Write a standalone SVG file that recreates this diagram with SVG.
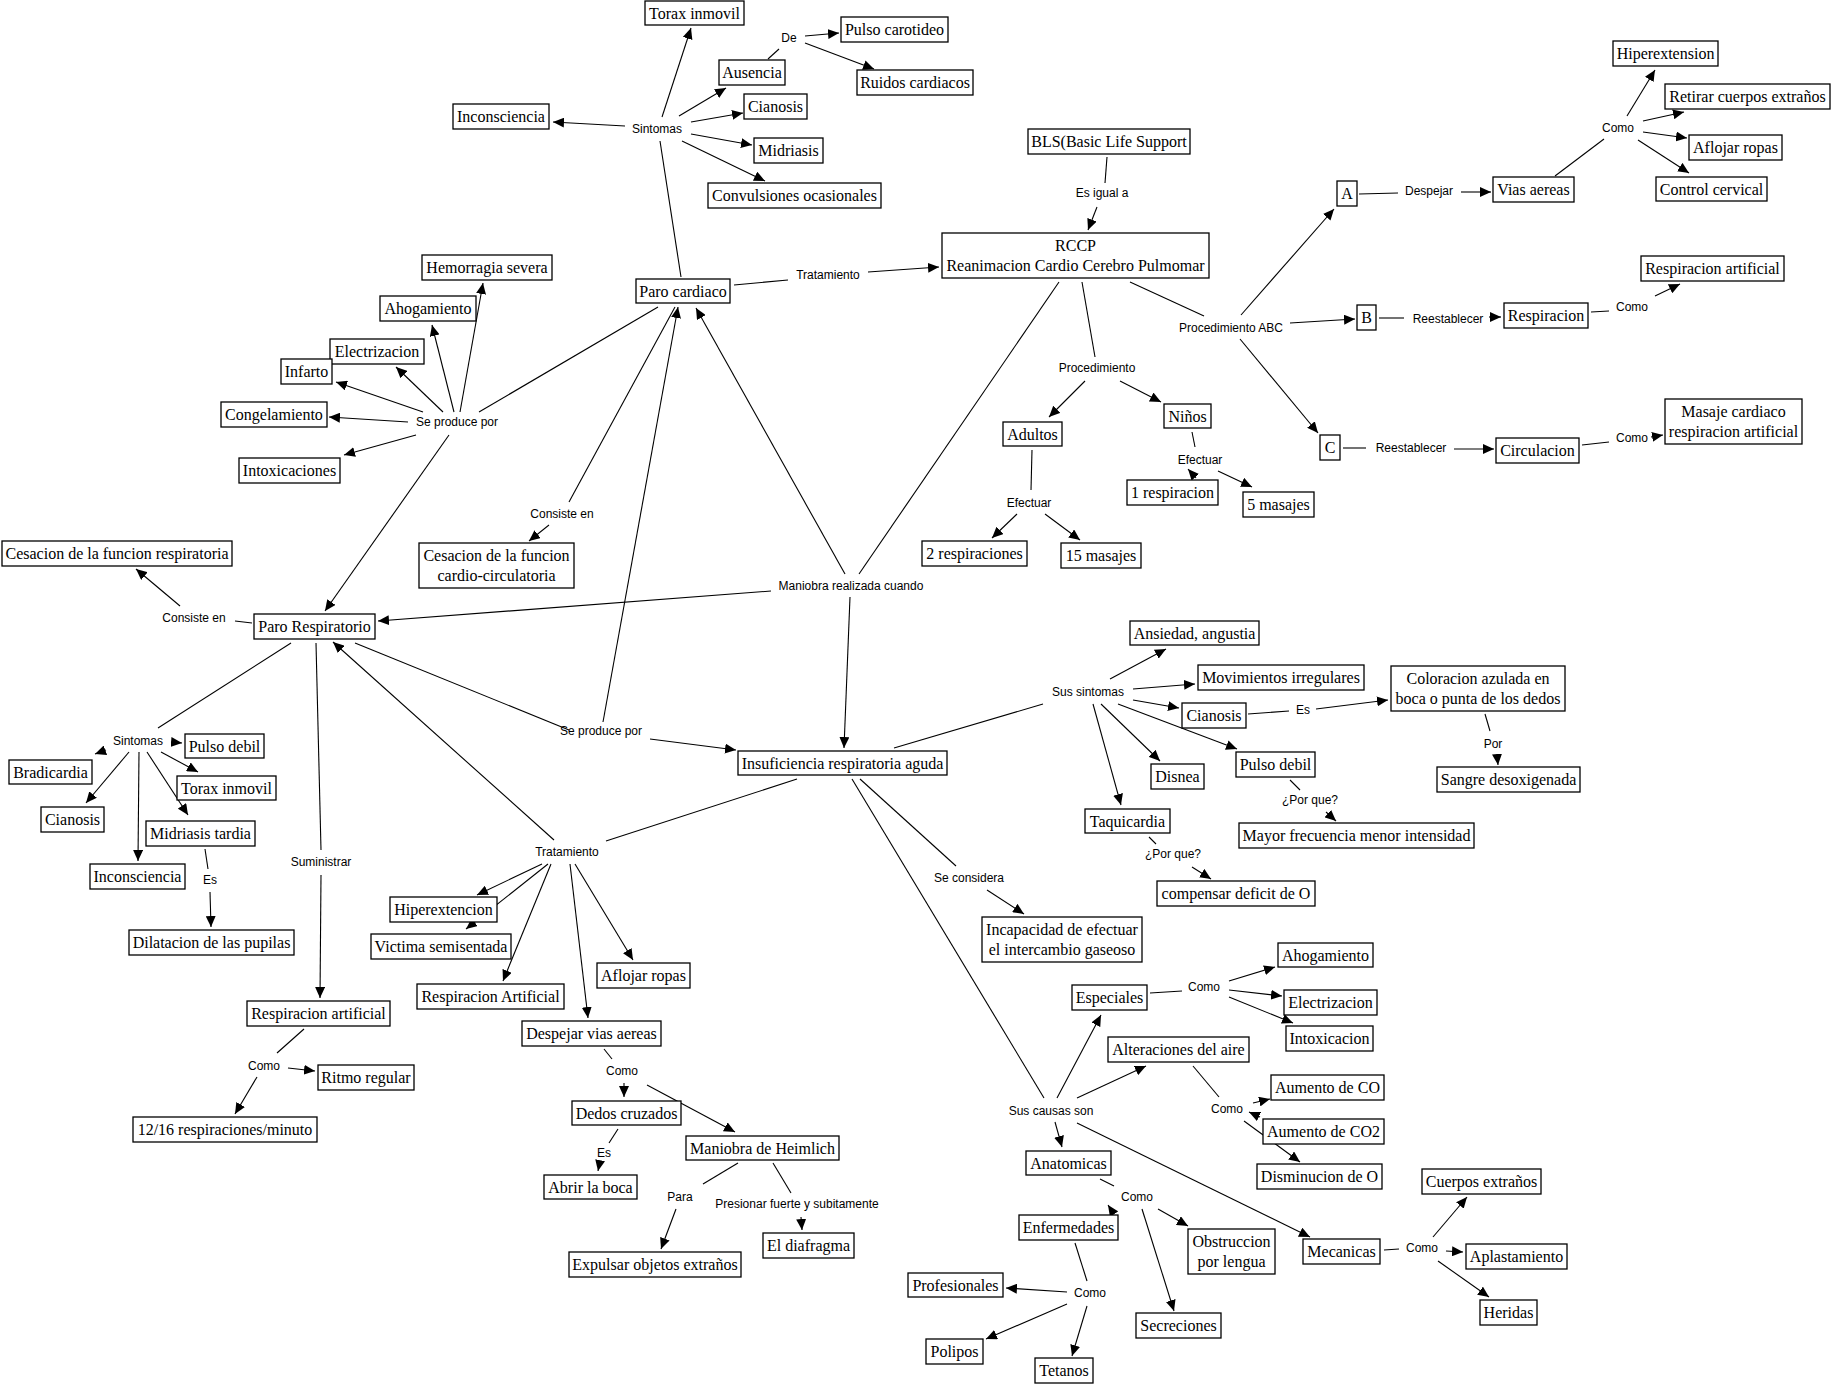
<svg xmlns="http://www.w3.org/2000/svg" width="1832" height="1386" viewBox="0 0 1832 1386">
<defs>
<marker id="ah" viewBox="0 0 11 10" markerWidth="11" markerHeight="10" refX="11" refY="5" orient="auto" markerUnits="userSpaceOnUse"><path d="M0,0 L11,5 L0,10 z" fill="#000"/></marker>
<style>
.n rect{fill:#fff;stroke:#000;stroke-width:1.3}
.n text{font-family:"Liberation Serif","Times New Roman",serif;font-size:16px;text-anchor:middle;fill:#000}
.lb{font-family:"Liberation Sans",Arial,sans-serif;font-size:12px;text-anchor:middle;fill:#000}
#edges line{stroke:#000;stroke-width:1.1}
#edges line.a{marker-end:url(#ah)}
</style>
</defs>
<rect width="1832" height="1386" fill="#fff"/>
<g id="edges">
<line x1="681" y1="277" x2="660" y2="141"/>
<line x1="768" y1="59" x2="779" y2="49"/>
<line x1="734" y1="285" x2="788" y2="280"/>
<line x1="1107" y1="157" x2="1105" y2="183"/>
<line x1="1059" y1="282" x2="859" y2="574"/>
<line x1="1082" y1="282" x2="1095" y2="357"/>
<line x1="1130" y1="282" x2="1204" y2="316"/>
<line x1="1192" y1="432" x2="1195" y2="447"/>
<line x1="1032" y1="450" x2="1031" y2="490"/>
<line x1="1359" y1="194" x2="1398" y2="193"/>
<line x1="1555" y1="176" x2="1604" y2="139"/>
<line x1="1379" y1="318" x2="1404" y2="318"/>
<line x1="1591" y1="312" x2="1609" y2="311"/>
<line x1="1343" y1="448" x2="1366" y2="448"/>
<line x1="1582" y1="445" x2="1609" y2="442"/>
<line x1="658" y1="307" x2="479" y2="412"/>
<line x1="675" y1="307" x2="569" y2="502"/>
<line x1="252" y1="623" x2="235" y2="621"/>
<line x1="291" y1="643" x2="158" y2="728"/>
<line x1="316" y1="643" x2="321" y2="850"/>
<line x1="355" y1="643" x2="569" y2="730"/>
<line x1="205" y1="849" x2="208" y2="869"/>
<line x1="304" y1="1029" x2="277" y2="1053"/>
<line x1="894" y1="748" x2="1043" y2="704"/>
<line x1="797" y1="779" x2="606" y2="841"/>
<line x1="860" y1="779" x2="956" y2="866"/>
<line x1="852" y1="779" x2="1044" y2="1098"/>
<line x1="1149" y1="837" x2="1156" y2="844"/>
<line x1="1248" y1="714" x2="1289" y2="711"/>
<line x1="1485" y1="714" x2="1490" y2="731"/>
<line x1="1290" y1="780" x2="1300" y2="790"/>
<line x1="618" y1="1129" x2="609" y2="1143"/>
<line x1="604" y1="1049" x2="612" y2="1059"/>
<line x1="738" y1="1163" x2="703" y2="1184"/>
<line x1="773" y1="1163" x2="791" y2="1193"/>
<line x1="1150" y1="993" x2="1182" y2="991"/>
<line x1="1193" y1="1066" x2="1219" y2="1097"/>
<line x1="1100" y1="1179" x2="1114" y2="1186"/>
<line x1="1075" y1="1243" x2="1087" y2="1281"/>
<line x1="1384" y1="1250" x2="1399" y2="1249"/>
<line class="a" x1="662" y1="117" x2="691" y2="28"/>
<line class="a" x1="679" y1="116" x2="726" y2="88"/>
<line class="a" x1="805" y1="36" x2="839" y2="33"/>
<line class="a" x1="805" y1="43" x2="874" y2="69"/>
<line class="a" x1="691" y1="122" x2="743" y2="113"/>
<line class="a" x1="691" y1="134" x2="752" y2="145"/>
<line class="a" x1="682" y1="141" x2="765" y2="181"/>
<line class="a" x1="625" y1="126" x2="553" y2="122"/>
<line class="a" x1="868" y1="272" x2="939" y2="267"/>
<line class="a" x1="1097" y1="207" x2="1088" y2="230"/>
<line class="a" x1="1085" y1="381" x2="1049" y2="417"/>
<line class="a" x1="1120" y1="381" x2="1161" y2="402"/>
<line class="a" x1="1241" y1="315" x2="1334" y2="209"/>
<line class="a" x1="1290" y1="323" x2="1355" y2="319"/>
<line class="a" x1="1240" y1="339" x2="1318" y2="433"/>
<line class="a" x1="1461" y1="192" x2="1491" y2="192"/>
<line class="a" x1="1627" y1="116" x2="1655" y2="70"/>
<line class="a" x1="1643" y1="121" x2="1684" y2="112"/>
<line class="a" x1="1643" y1="132" x2="1687" y2="138"/>
<line class="a" x1="1638" y1="140" x2="1689" y2="173"/>
<line class="a" x1="1489" y1="317" x2="1501" y2="317"/>
<line class="a" x1="1655" y1="296" x2="1680" y2="284"/>
<line class="a" x1="1454" y1="449" x2="1494" y2="449"/>
<line class="a" x1="1651" y1="437" x2="1663" y2="435"/>
<line class="a" x1="460" y1="412" x2="483" y2="283"/>
<line class="a" x1="454" y1="412" x2="432" y2="325"/>
<line class="a" x1="443" y1="412" x2="396" y2="367"/>
<line class="a" x1="423" y1="412" x2="336" y2="382"/>
<line class="a" x1="408" y1="422" x2="329" y2="417"/>
<line class="a" x1="416" y1="435" x2="344" y2="455"/>
<line class="a" x1="449" y1="435" x2="325" y2="611"/>
<line class="a" x1="549" y1="525" x2="529" y2="541"/>
<line class="a" x1="771" y1="591" x2="378" y2="621"/>
<line class="a" x1="180" y1="606" x2="136" y2="569"/>
<line class="a" x1="171" y1="742" x2="182" y2="743"/>
<line class="a" x1="106" y1="750" x2="95" y2="754"/>
<line class="a" x1="129" y1="752" x2="86" y2="803"/>
<line class="a" x1="139" y1="752" x2="138" y2="861"/>
<line class="a" x1="147" y1="752" x2="188" y2="815"/>
<line class="a" x1="161" y1="752" x2="198" y2="772"/>
<line class="a" x1="210" y1="892" x2="211" y2="927"/>
<line class="a" x1="321" y1="875" x2="320" y2="998"/>
<line class="a" x1="554" y1="840" x2="333" y2="642"/>
<line class="a" x1="603" y1="722" x2="678" y2="307"/>
<line class="a" x1="845" y1="574" x2="696" y2="308"/>
<line class="a" x1="850" y1="597" x2="844" y2="748"/>
<line class="a" x1="650" y1="739" x2="736" y2="750"/>
<line class="a" x1="1017" y1="514" x2="992" y2="538"/>
<line class="a" x1="1045" y1="514" x2="1080" y2="540"/>
<line class="a" x1="1196" y1="478" x2="1188" y2="469"/>
<line class="a" x1="1218" y1="471" x2="1252" y2="487"/>
<line class="a" x1="1110" y1="679" x2="1166" y2="649"/>
<line class="a" x1="1133" y1="689" x2="1195" y2="684"/>
<line class="a" x1="1133" y1="700" x2="1179" y2="708"/>
<line class="a" x1="1118" y1="704" x2="1237" y2="749"/>
<line class="a" x1="1101" y1="704" x2="1160" y2="761"/>
<line class="a" x1="1093" y1="704" x2="1121" y2="805"/>
<line class="a" x1="1316" y1="709" x2="1388" y2="700"/>
<line class="a" x1="1497" y1="754" x2="1498" y2="765"/>
<line class="a" x1="1326" y1="812" x2="1336" y2="821"/>
<line class="a" x1="1192" y1="867" x2="1211" y2="879"/>
<line class="a" x1="987" y1="890" x2="1024" y2="914"/>
<line class="a" x1="542" y1="864" x2="477" y2="895"/>
<line class="a" x1="548" y1="864" x2="466" y2="929"/>
<line class="a" x1="551" y1="864" x2="503" y2="981"/>
<line class="a" x1="570" y1="864" x2="588" y2="1018"/>
<line class="a" x1="575" y1="864" x2="633" y2="960"/>
<line class="a" x1="288" y1="1068" x2="315" y2="1071"/>
<line class="a" x1="257" y1="1077" x2="235" y2="1114"/>
<line class="a" x1="624" y1="1083" x2="624" y2="1097"/>
<line class="a" x1="647" y1="1085" x2="735" y2="1132"/>
<line class="a" x1="600" y1="1161" x2="598" y2="1171"/>
<line class="a" x1="676" y1="1209" x2="661" y2="1249"/>
<line class="a" x1="801" y1="1217" x2="802" y2="1230"/>
<line class="a" x1="1057" y1="1098" x2="1101" y2="1015"/>
<line class="a" x1="1077" y1="1098" x2="1146" y2="1066"/>
<line class="a" x1="1055" y1="1122" x2="1062" y2="1147"/>
<line class="a" x1="1077" y1="1123" x2="1310" y2="1237"/>
<line class="a" x1="1229" y1="981" x2="1275" y2="967"/>
<line class="a" x1="1229" y1="990" x2="1282" y2="996"/>
<line class="a" x1="1229" y1="997" x2="1293" y2="1023"/>
<line class="a" x1="1253" y1="1103" x2="1270" y2="1099"/>
<line class="a" x1="1260" y1="1117" x2="1249" y2="1112"/>
<line class="a" x1="1244" y1="1121" x2="1300" y2="1162"/>
<line class="a" x1="1114" y1="1214" x2="1108" y2="1205"/>
<line class="a" x1="1158" y1="1209" x2="1188" y2="1226"/>
<line class="a" x1="1142" y1="1209" x2="1174" y2="1311"/>
<line class="a" x1="1067" y1="1292" x2="1006" y2="1288"/>
<line class="a" x1="1067" y1="1304" x2="986" y2="1339"/>
<line class="a" x1="1087" y1="1306" x2="1072" y2="1356"/>
<line class="a" x1="1433" y1="1237" x2="1467" y2="1197"/>
<line class="a" x1="1446" y1="1251" x2="1463" y2="1252"/>
<line class="a" x1="1438" y1="1261" x2="1489" y2="1297"/>
</g>
<g id="labels">
<text class="lb" x="657" y="133">Sintomas</text>
<text class="lb" x="789" y="42">De</text>
<text class="lb" x="1102" y="197">Es igual a</text>
<text class="lb" x="828" y="279">Tratamiento</text>
<text class="lb" x="457" y="426">Se produce por</text>
<text class="lb" x="1097" y="372">Procedimiento</text>
<text class="lb" x="1231" y="332">Procedimiento ABC</text>
<text class="lb" x="1429" y="195">Despejar</text>
<text class="lb" x="1618" y="132">Como</text>
<text class="lb" x="1448" y="323">Reestablecer</text>
<text class="lb" x="1632" y="311">Como</text>
<text class="lb" x="1411" y="452">Reestablecer</text>
<text class="lb" x="1632" y="442">Como</text>
<text class="lb" x="1200" y="464">Efectuar</text>
<text class="lb" x="1029" y="507">Efectuar</text>
<text class="lb" x="562" y="518">Consiste en</text>
<text class="lb" x="194" y="622">Consiste en</text>
<text class="lb" x="851" y="590">Maniobra realizada cuando</text>
<text class="lb" x="1088" y="696">Sus sintomas</text>
<text class="lb" x="1303" y="714">Es</text>
<text class="lb" x="1493" y="748">Por</text>
<text class="lb" x="1310" y="804">¿Por que?</text>
<text class="lb" x="1173" y="858">¿Por que?</text>
<text class="lb" x="601" y="735">Se produce por</text>
<text class="lb" x="138" y="745">Sintomas</text>
<text class="lb" x="210" y="884">Es</text>
<text class="lb" x="321" y="866">Suministrar</text>
<text class="lb" x="567" y="856">Tratamiento</text>
<text class="lb" x="969" y="882">Se considera</text>
<text class="lb" x="264" y="1070">Como</text>
<text class="lb" x="622" y="1075">Como</text>
<text class="lb" x="604" y="1157">Es</text>
<text class="lb" x="680" y="1201">Para</text>
<text class="lb" x="797" y="1208">Presionar fuerte y subitamente</text>
<text class="lb" x="1204" y="991">Como</text>
<text class="lb" x="1051" y="1115">Sus causas son</text>
<text class="lb" x="1227" y="1113">Como</text>
<text class="lb" x="1137" y="1201">Como</text>
<text class="lb" x="1090" y="1297">Como</text>
<text class="lb" x="1422" y="1252">Como</text>
</g>
<g id="nodes">
<g id="n1" class="n"><rect x="645" y="1" width="99" height="24"/><text x="694.5" y="19">Torax inmovil</text></g>
<g id="n2" class="n"><rect x="841" y="17" width="107" height="25"/><text x="894.5" y="35">Pulso carotideo</text></g>
<g id="n3" class="n"><rect x="719" y="60" width="66" height="25"/><text x="752" y="78">Ausencia</text></g>
<g id="n4" class="n"><rect x="857" y="70" width="116" height="25"/><text x="915" y="88">Ruidos cardiacos</text></g>
<g id="n5" class="n"><rect x="744" y="94" width="63" height="25"/><text x="775.5" y="112">Cianosis</text></g>
<g id="n6" class="n"><rect x="453" y="104" width="96" height="25"/><text x="501" y="122">Inconsciencia</text></g>
<g id="n7" class="n"><rect x="754" y="138" width="69" height="25"/><text x="788.5" y="156">Midriasis</text></g>
<g id="n8" class="n"><rect x="708" y="183" width="173" height="25"/><text x="794.5" y="201">Convulsiones ocasionales</text></g>
<g id="n9" class="n"><rect x="1028" y="129" width="162" height="25"/><text x="1109" y="147">BLS(Basic Life Support</text></g>
<g id="n10" class="n"><rect x="942" y="233" width="267" height="45"/><text x="1075.5" y="251">RCCP</text><text x="1075.5" y="271">Reanimacion Cardio Cerebro Pulmomar</text></g>
<g id="n11" class="n"><rect x="636" y="279" width="94" height="24"/><text x="683" y="297">Paro cardiaco</text></g>
<g id="n12" class="n"><rect x="422" y="255" width="130" height="25"/><text x="487" y="273">Hemorragia severa</text></g>
<g id="n13" class="n"><rect x="380" y="296" width="96" height="25"/><text x="428" y="314">Ahogamiento</text></g>
<g id="n14" class="n"><rect x="330" y="339" width="94" height="25"/><text x="377" y="357">Electrizacion</text></g>
<g id="n15" class="n"><rect x="281" y="359" width="51" height="25"/><text x="306.5" y="377">Infarto</text></g>
<g id="n16" class="n"><rect x="221" y="402" width="106" height="25"/><text x="274" y="420">Congelamiento</text></g>
<g id="n17" class="n"><rect x="239" y="458" width="101" height="25"/><text x="289.5" y="476">Intoxicaciones</text></g>
<g id="n18" class="n"><rect x="1613" y="41" width="105" height="25"/><text x="1665.5" y="59">Hiperextension</text></g>
<g id="n19" class="n"><rect x="1665" y="84" width="165" height="25"/><text x="1747.5" y="102">Retirar cuerpos extraños</text></g>
<g id="n20" class="n"><rect x="1689" y="135" width="93" height="25"/><text x="1735.5" y="153">Aflojar ropas</text></g>
<g id="n21" class="n"><rect x="1656" y="177" width="111" height="24"/><text x="1711.5" y="195">Control cervical</text></g>
<g id="n22" class="n"><rect x="1337" y="181" width="20" height="25"/><text x="1347" y="199">A</text></g>
<g id="n23" class="n"><rect x="1493" y="177" width="81" height="25"/><text x="1533.5" y="195">Vias aereas</text></g>
<g id="n24" class="n"><rect x="1641" y="256" width="143" height="25"/><text x="1712.5" y="274">Respiracion artificial</text></g>
<g id="n25" class="n"><rect x="1357" y="305" width="19" height="25"/><text x="1366.5" y="323">B</text></g>
<g id="n26" class="n"><rect x="1504" y="303" width="84" height="25"/><text x="1546" y="321">Respiracion</text></g>
<g id="n27" class="n"><rect x="1320" y="435" width="20" height="25"/><text x="1330" y="453">C</text></g>
<g id="n28" class="n"><rect x="1496" y="438" width="83" height="25"/><text x="1537.5" y="456">Circulacion</text></g>
<g id="n29" class="n"><rect x="1665" y="399" width="137" height="45"/><text x="1733.5" y="417">Masaje cardiaco</text><text x="1733.5" y="437">respiracion artificial</text></g>
<g id="n30" class="n"><rect x="1003" y="422" width="59" height="24"/><text x="1032.5" y="440">Adultos</text></g>
<g id="n31" class="n"><rect x="1164" y="404" width="47" height="24"/><text x="1187.5" y="422">Niños</text></g>
<g id="n32" class="n"><rect x="1127" y="480" width="91" height="25"/><text x="1172.5" y="498">1 respiracion</text></g>
<g id="n33" class="n"><rect x="1243" y="492" width="71" height="25"/><text x="1278.5" y="510">5 masajes</text></g>
<g id="n34" class="n"><rect x="922" y="541" width="105" height="25"/><text x="974.5" y="559">2 respiraciones</text></g>
<g id="n35" class="n"><rect x="1061" y="543" width="80" height="25"/><text x="1101" y="561">15 masajes</text></g>
<g id="n36" class="n"><rect x="2" y="541" width="230" height="25"/><text x="117" y="559">Cesacion de la funcion respiratoria</text></g>
<g id="n37" class="n"><rect x="419" y="543" width="155" height="45"/><text x="496.5" y="561">Cesacion de la funcion</text><text x="496.5" y="581">cardio-circulatoria</text></g>
<g id="n38" class="n"><rect x="254" y="614" width="121" height="25"/><text x="314.5" y="632">Paro Respiratorio</text></g>
<g id="n39" class="n"><rect x="1130" y="621" width="129" height="24"/><text x="1194.5" y="639">Ansiedad, angustia</text></g>
<g id="n40" class="n"><rect x="1198" y="665" width="166" height="25"/><text x="1281" y="683">Movimientos irregulares</text></g>
<g id="n41" class="n"><rect x="1391" y="666" width="174" height="45"/><text x="1478" y="684">Coloracion azulada en</text><text x="1478" y="704">boca o punta de los dedos</text></g>
<g id="n42" class="n"><rect x="1182" y="703" width="64" height="25"/><text x="1214" y="721">Cianosis</text></g>
<g id="n43" class="n"><rect x="1236" y="752" width="79" height="25"/><text x="1275.5" y="770">Pulso debil</text></g>
<g id="n44" class="n"><rect x="1437" y="767" width="143" height="25"/><text x="1508.5" y="785">Sangre desoxigenada</text></g>
<g id="n45" class="n"><rect x="1151" y="764" width="53" height="25"/><text x="1177.5" y="782">Disnea</text></g>
<g id="n46" class="n"><rect x="1085" y="809" width="85" height="24"/><text x="1127.5" y="827">Taquicardia</text></g>
<g id="n47" class="n"><rect x="1239" y="823" width="235" height="25"/><text x="1356.5" y="841">Mayor frecuencia menor intensidad</text></g>
<g id="n48" class="n"><rect x="1157" y="881" width="158" height="25"/><text x="1236" y="899">compensar deficit de O</text></g>
<g id="n49" class="n"><rect x="738" y="751" width="209" height="24"/><text x="842.5" y="769">Insuficiencia respiratoria aguda</text></g>
<g id="n50" class="n"><rect x="982" y="917" width="160" height="45"/><text x="1062" y="935">Incapacidad de efectuar</text><text x="1062" y="955">el intercambio gaseoso</text></g>
<g id="n51" class="n"><rect x="185" y="734" width="79" height="24"/><text x="224.5" y="752">Pulso debil</text></g>
<g id="n52" class="n"><rect x="9" y="760" width="83" height="24"/><text x="50.5" y="778">Bradicardia</text></g>
<g id="n53" class="n"><rect x="177" y="776" width="99" height="24"/><text x="226.5" y="794">Torax inmovil</text></g>
<g id="n54" class="n"><rect x="41" y="807" width="63" height="25"/><text x="72.5" y="825">Cianosis</text></g>
<g id="n55" class="n"><rect x="146" y="821" width="109" height="25"/><text x="200.5" y="839">Midriasis tardia</text></g>
<g id="n56" class="n"><rect x="90" y="864" width="95" height="25"/><text x="137.5" y="882">Inconsciencia</text></g>
<g id="n57" class="n"><rect x="129" y="930" width="165" height="25"/><text x="211.5" y="948">Dilatacion de las pupilas</text></g>
<g id="n58" class="n"><rect x="390" y="897" width="107" height="25"/><text x="443.5" y="915">Hiperextencion</text></g>
<g id="n59" class="n"><rect x="371" y="934" width="140" height="25"/><text x="441" y="952">Victima semisentada</text></g>
<g id="n60" class="n"><rect x="597" y="963" width="93" height="25"/><text x="643.5" y="981">Aflojar ropas</text></g>
<g id="n61" class="n"><rect x="417" y="984" width="147" height="25"/><text x="490.5" y="1002">Respiracion Artificial</text></g>
<g id="n62" class="n"><rect x="522" y="1021" width="139" height="25"/><text x="591.5" y="1039">Despejar vias aereas</text></g>
<g id="n63" class="n"><rect x="247" y="1001" width="143" height="25"/><text x="318.5" y="1019">Respiracion artificial</text></g>
<g id="n64" class="n"><rect x="318" y="1065" width="96" height="25"/><text x="366" y="1083">Ritmo regular</text></g>
<g id="n65" class="n"><rect x="133" y="1117" width="184" height="25"/><text x="225" y="1135">12/16 respiraciones/minuto</text></g>
<g id="n66" class="n"><rect x="572" y="1101" width="109" height="24"/><text x="626.5" y="1119">Dedos cruzados</text></g>
<g id="n67" class="n"><rect x="686" y="1136" width="153" height="24"/><text x="762.5" y="1154">Maniobra de Heimlich</text></g>
<g id="n68" class="n"><rect x="544" y="1175" width="93" height="24"/><text x="590.5" y="1193">Abrir la boca</text></g>
<g id="n69" class="n"><rect x="763" y="1233" width="91" height="25"/><text x="808.5" y="1251">El diafragma</text></g>
<g id="n70" class="n"><rect x="569" y="1252" width="172" height="25"/><text x="655" y="1270">Expulsar objetos extraños</text></g>
<g id="n71" class="n"><rect x="1072" y="985" width="75" height="25"/><text x="1109.5" y="1003">Especiales</text></g>
<g id="n72" class="n"><rect x="1108" y="1037" width="141" height="25"/><text x="1178.5" y="1055">Alteraciones del aire</text></g>
<g id="n73" class="n"><rect x="1278" y="943" width="95" height="24"/><text x="1325.5" y="961">Ahogamiento</text></g>
<g id="n74" class="n"><rect x="1284" y="990" width="93" height="25"/><text x="1330.5" y="1008">Electrizacion</text></g>
<g id="n75" class="n"><rect x="1286" y="1026" width="87" height="25"/><text x="1329.5" y="1044">Intoxicacion</text></g>
<g id="n76" class="n"><rect x="1271" y="1075" width="113" height="25"/><text x="1327.5" y="1093">Aumento de CO</text></g>
<g id="n77" class="n"><rect x="1263" y="1119" width="121" height="25"/><text x="1323.5" y="1137">Aumento de CO2</text></g>
<g id="n78" class="n"><rect x="1257" y="1164" width="125" height="25"/><text x="1319.5" y="1182">Disminucion de O</text></g>
<g id="n79" class="n"><rect x="1026" y="1151" width="85" height="24"/><text x="1068.5" y="1169">Anatomicas</text></g>
<g id="n80" class="n"><rect x="1019" y="1215" width="99" height="25"/><text x="1068.5" y="1233">Enfermedades</text></g>
<g id="n81" class="n"><rect x="1188" y="1229" width="87" height="45"/><text x="1231.5" y="1247">Obstruccion</text><text x="1231.5" y="1267">por lengua</text></g>
<g id="n82" class="n"><rect x="908" y="1273" width="95" height="24"/><text x="955.5" y="1291">Profesionales</text></g>
<g id="n83" class="n"><rect x="1136" y="1313" width="85" height="25"/><text x="1178.5" y="1331">Secreciones</text></g>
<g id="n84" class="n"><rect x="926" y="1339" width="57" height="25"/><text x="954.5" y="1357">Polipos</text></g>
<g id="n85" class="n"><rect x="1035" y="1358" width="58" height="25"/><text x="1064" y="1376">Tetanos</text></g>
<g id="n86" class="n"><rect x="1303" y="1239" width="77" height="25"/><text x="1341.5" y="1257">Mecanicas</text></g>
<g id="n87" class="n"><rect x="1422" y="1169" width="119" height="25"/><text x="1481.5" y="1187">Cuerpos extraños</text></g>
<g id="n88" class="n"><rect x="1466" y="1244" width="101" height="25"/><text x="1516.5" y="1262">Aplastamiento</text></g>
<g id="n89" class="n"><rect x="1480" y="1300" width="57" height="25"/><text x="1508.5" y="1318">Heridas</text></g>
</g>
</svg>
